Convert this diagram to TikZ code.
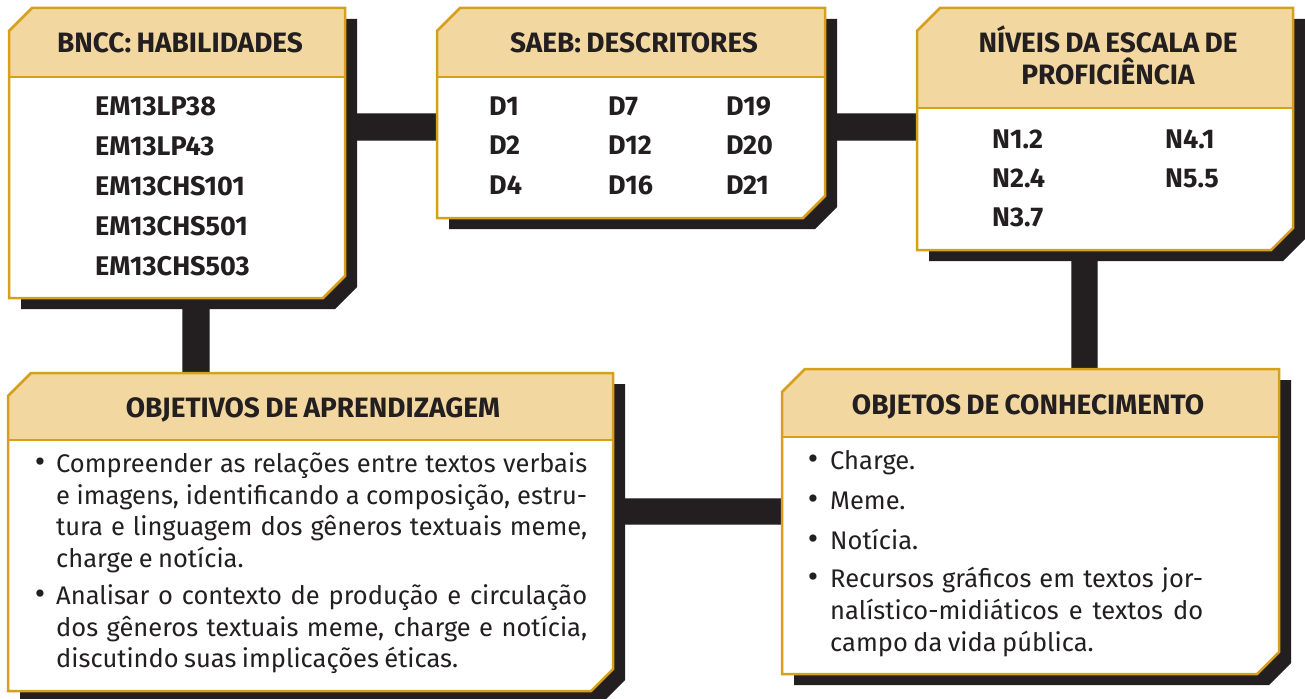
\documentclass[tikz,border=0pt]{standalone}
\usepackage{fontspec}
\setmainfont{Fira Sans}[WordSpace=0.8]
\usetikzlibrary{calc}
\definecolor{gold}{RGB}{214,160,28}
\definecolor{headfill}{RGB}{242,216,160}
\definecolor{shadowc}{RGB}{35,31,32}
\definecolor{ink}{RGB}{35,31,32}
\definecolor{baredge}{RGB}{105,105,105}
\tikzset{
  frame/.style={inner sep=0pt, outer sep=0pt, draw=none},
  cardshape/.style n args={3}{insert path={
    ([xshift=#2pt,yshift=-23pt-#3pt]#1.north west) --
    ([xshift=23pt+#2pt,yshift=-#3pt]#1.north west) --
    ([xshift=#2pt,yshift=-#3pt]#1.north east) --
    ([xshift=#2pt,yshift=22pt-#3pt]#1.south east) --
    ([xshift=-22pt+#2pt,yshift=-#3pt]#1.south east) --
    ([xshift=#2pt,yshift=-#3pt]#1.south west) -- cycle}},
  bar/.style={fill=shadowc, draw=baredge, line width=0.8pt},
  goldline/.style={draw=gold, line width=2.5pt, line join=miter},
  head/.style={font=\fontsize{28}{30}\bfseries\selectfont, text=ink, inner sep=0pt, anchor=base},
  code/.style={font=\fontsize{27}{30}\bfseries\selectfont, text=ink, inner sep=0pt, anchor=base west},
  body/.style={font=\fontsize{25.5}{32}\selectfont, text=ink, inner sep=0pt, anchor=base west},
  bul/.style={font=\fontsize{32}{32}\selectfont, text=ink, inner sep=0pt, anchor=base}
}
\newcommand{\drawcardbox}[2]{%
  \fill[white] [cardshape={#1}{0}{0}];
  \begin{scope}
    \path[clip] [cardshape={#1}{0}{0}];
    \fill[headfill] (#1.north west) rectangle ([yshift=-#2pt]#1.north east);
  \end{scope}
  \draw[goldline] ([yshift=-#2pt]#1.north west) -- ([yshift=-#2pt]#1.north east);
  \draw[goldline] [cardshape={#1}{0}{0}];
}
\begin{document}
\begin{tikzpicture}[x=1pt,y=-1pt]
\useasboundingbox (0,0) rectangle (1305,698);
\fill[white] (0,0) rectangle (1305,698);

% box frames (invisible)
\node[frame, minimum width=336pt, minimum height=290pt] (bncc) at (177,153) {};
\node[frame, minimum width=388pt, minimum height=210pt] (saeb) at (631,113) {};
\node[frame, minimum width=376pt, minimum height=242pt] (niveis) at (1105,129) {};
\node[frame, minimum width=605pt, minimum height=318pt] (obj) at (310.5,532) {};
\node[frame, minimum width=497pt, minimum height=305pt] (conh) at (1030.5,521.5) {};

% connectors
\path[bar] ([yshift=-105pt]bncc.north east) rectangle ([yshift=-132pt]saeb.north west);
\path[bar] ([yshift=-105pt]saeb.north east) rectangle ([yshift=-132pt]niveis.north west);
\path[bar] ([xshift=173pt]bncc.south west) rectangle ([xshift=201pt]obj.north west);
\path[bar] ([xshift=154pt]niveis.south west) rectangle ([xshift=315pt]conh.north west);
\path[bar] ([yshift=-125pt]obj.north east) rectangle ([yshift=-155pt]conh.north west);

% shadows
\fill[shadowc] [cardshape={bncc}{12}{11}];
\fill[shadowc] [cardshape={saeb}{12}{11}];
\fill[shadowc] [cardshape={niveis}{12}{11}];
\fill[shadowc] [cardshape={obj}{12}{11}];
\fill[shadowc] [cardshape={conh}{12}{11}];

% cards
\drawcardbox{bncc}{69}
\drawcardbox{saeb}{69}
\drawcardbox{niveis}{100}
\drawcardbox{obj}{67}
\drawcardbox{conh}{68}

% headers
\node[head] (hbncc) at (180,53) {BNCC: HABILIDADES};
\node[head] (hsaeb) at (634,53) {SAEB: DESCRITORES};
\node[head] (hniv1) at (1108,53) {NÍVEIS DA ESCALA DE};
\node[head] (hniv2) at (1108,85) {PROFICIÊNCIA};
\node[head] (hobj) at (313,417) {OBJETIVOS DE APRENDIZAGEM};
\node[head] (hconh) at (1028,414) {OBJETOS DE CONHECIMENTO};

% BNCC codes
\foreach \t [count=\i] in {EM13LP38,EM13LP43,EM13CHS101,EM13CHS501,EM13CHS503}
  \node[code] (hab\i) at (95,{115+40*(\i-1)}) {\t};

% SAEB descriptors
\node[code] (d1) at (489,115) {D1};
\node[code] (d7) at (608,115) {D7};
\node[code] (d19) at (726,115) {D19};
\node[code] (d2) at (489,154.5) {D2};
\node[code] (d12) at (608,154.5) {D12};
\node[code] (d20) at (726,154.5) {D20};
\node[code] (d4) at (489,194) {D4};
\node[code] (d16) at (608,194) {D16};
\node[code] (d21) at (726,194) {D21};

% levels
\node[code] (n12) at (992,148) {N1.2};
\node[code] (n41) at (1165,148) {N4.1};
\node[code] (n24) at (992,187) {N2.4};
\node[code] (n55) at (1165,187) {N5.5};
\node[code] (n37) at (992,226) {N3.7};

% objetivos
\node[bul] (ob1) at (40,472) {•};
\node[body] (oa1) at (56,472) {\makebox[531pt][s]{Compreender as relações entre textos verbais}};
\node[body] (oa2) at (56,504) {\makebox[531pt][s]{e imagens, identificando a composição, estru-}};
\node[body] (oa3) at (56,535.5) {\makebox[531pt][s]{tura e linguagem dos gêneros textuais meme,}};
\node[body] (oa4) at (56,567) {charge e notícia.};
\node[bul] (ob2) at (40,604) {•};
\node[body] (ob1l) at (56,604) {\makebox[531pt][s]{Analisar o contexto de produção e circulação}};
\node[body] (ob2l) at (56,636) {\makebox[531pt][s]{dos gêneros textuais meme, charge e notícia,}};
\node[body] (ob3l) at (56,667) {discutindo suas implicações éticas.};

% objetos de conhecimento
\node[bul] (cb1) at (813,469) {•};
\node[body] (c1) at (830,469) {Charge.};
\node[bul] (cb2) at (813,509) {•};
\node[body] (c2) at (830,509) {Meme.};
\node[bul] (cb3) at (813,549) {•};
\node[body] (c3) at (830,549) {Notícia.};
\node[bul] (cb4) at (813,587) {•};
\node[body] (c4a) at (830,587) {\makebox[373pt][s]{Recursos gráficos em textos jor-}};
\node[body] (c4b) at (830,619) {\makebox[373pt][s]{nalístico-midiáticos e textos do}};
\node[body] (c4c) at (830,651) {campo da vida pública.};
\end{tikzpicture}
\end{document}
